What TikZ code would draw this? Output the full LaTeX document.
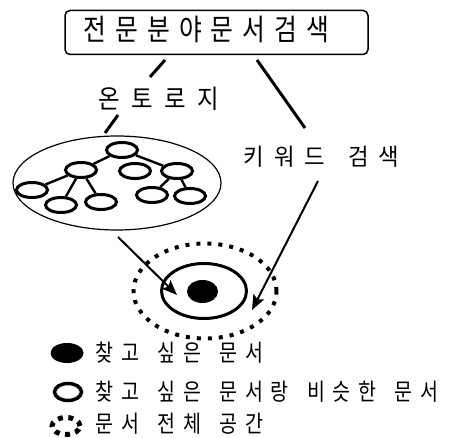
\documentclass[tikz,border=0pt]{standalone}
\usepackage{fontspec}
\newfontfamily\krtitle[FakeStretch=0.84]{Noto Sans CJK KR}
\newfontfamily\kronto[FakeStretch=0.90]{Noto Sans CJK KR}
\newfontfamily\krkey[FakeStretch=0.95]{Noto Sans CJK KR}
\newfontfamily\krleg[FakeStretch=0.83]{Noto Sans CJK KR}
\usetikzlibrary{shapes.geometric,arrows.meta}
% even tracking between Hangul syllables
\XeTeXinterchartokenstate=1
\newXeTeXintercharclass\hangulclass
\newdimen\hgap
\newcount\hcnt
\hcnt="AC00
\loop \XeTeXcharclass\hcnt=\hangulclass \advance\hcnt by 1 \ifnum\hcnt<"D7A4 \repeat
\XeTeXinterchartoks\hangulclass\hangulclass={\kern\hgap}
\newcommand\trk[2]{\hgap=#1\relax\spaceskip=#2\relax}
\tikzset{
  txt/.style={inner sep=0pt,anchor=base west},
  conn/.style={line width=3pt},
  arr/.style={line width=2pt,-{Stealth[length=15pt,width=12pt,inset=3pt]}},
  tnode/.style={draw,ellipse,line width=3pt,minimum width=31pt,minimum height=15pt,inner sep=0pt},
  tedge/.style={line width=2.4pt},
  dotring/.style={line width=4pt,dash pattern=on 4pt off 7pt},
}
\begin{document}
\begin{tikzpicture}[x=1pt,y=-1pt]
\useasboundingbox (0,0) rectangle (460,438);
% title box
\node[draw,rounded corners=5pt,line width=1.5pt,minimum width=303pt,minimum height=44pt,inner sep=0pt] (titlebox) at (216.5,32.5) {};
\node[txt,font={\krtitle\fontsize{29.5}{31}\selectfont\trk{9pt}{10pt}}] (title) at (83.5,41) {전문분야문서검색};
% labels
\node[txt,font={\kronto\fontsize{26}{28}\selectfont\trk{11.5pt}{10pt}}] (onto) at (98.5,108.5) {온토로지};
\node[txt,font={\krkey\fontsize{23.5}{25}\selectfont\trk{10pt}{22.7pt}}] (key) at (243.5,165.5) {키워드 검색};
% connector coordinates
\coordinate (a1) at (165,60);
\coordinate (a2) at (150,77);
\coordinate (b1) at (118,115);
\coordinate (b2) at (105,133);
\coordinate (c1) at (257,60);
\coordinate (c2) at (305,128);
\coordinate (d1) at (318,181);
\coordinate (e1) at (118,237);
% ontology cloud
\node[draw,ellipse,line width=1.2pt,minimum width=208pt,minimum height=94pt,inner sep=0pt] (cloud) at (117,183) {};
\node[tnode] (n1) at (122,150) {};
\node[tnode] (n2) at (81,170) {};
\node[tnode] (n3) at (135,171) {};
\node[tnode] (n4) at (177,171) {};
\node[tnode] (n5) at (32,190) {};
\node[tnode] (n6) at (61,205) {};
\node[tnode] (n7) at (101,202) {};
\node[tnode] (n8) at (152,195) {};
\node[tnode] (n9) at (190,196) {};
\draw[tedge] (n1) -- (n2);
\draw[tedge] (n1) -- (n4);
\draw[tedge] (n2) -- (n5);
\draw[tedge] (n2) -- (n6);
\draw[tedge] (n2) -- (n7);
\draw[tedge] (n4) -- (n8);
\draw[tedge] (n4) -- (n9);
% document space
\node[draw,ellipse,dotring,minimum width=143pt,minimum height=95pt,inner sep=0pt] (space) at (205,291) {};
\node[draw,ellipse,line width=3pt,minimum width=85pt,minimum height=55pt,inner sep=0pt] (similar) at (204,291) {};
\node[fill,ellipse,minimum width=31pt,minimum height=23pt,inner sep=0pt] (target) at (202.5,291.5) {};
\coordinate (e2) at (177,295);
\coordinate (d2) at (252,310);
% connectors
\draw[conn] (a1) -- (a2);
\draw[conn] (b1) -- (b2);
\draw[conn] (c1) -- (c2);
\draw[arr] (d1) -- (d2);
\draw[arr] (e1) -- (e2);
% legend
\node[fill,ellipse,minimum width=33pt,minimum height=20pt,inner sep=0pt] (l1) at (67,353) {};
\node[draw,ellipse,line width=3.5pt,minimum width=27pt,minimum height=17pt,inner sep=0pt] (l2) at (68,392) {};
\node[draw,ellipse,line width=5pt,dash pattern=on 5pt off 5.5pt,minimum width=28pt,minimum height=17pt,inner sep=0pt] (l3) at (66,426) {};
\tikzset{legtxt/.style={txt,font={\krleg\fontsize{23.5}{25}\selectfont\trk{7.8pt}{18.2pt}}}}
\node[legtxt] (t1) at (95.5,361.5) {찾고 싶은 문서};
\node[legtxt] (t2) at (95.5,400.5) {찾고 싶은 문서랑 비슷한 문서};
\node[legtxt] (t3) at (95.5,432) {문서 전체 공간};
\end{tikzpicture}
\end{document}
